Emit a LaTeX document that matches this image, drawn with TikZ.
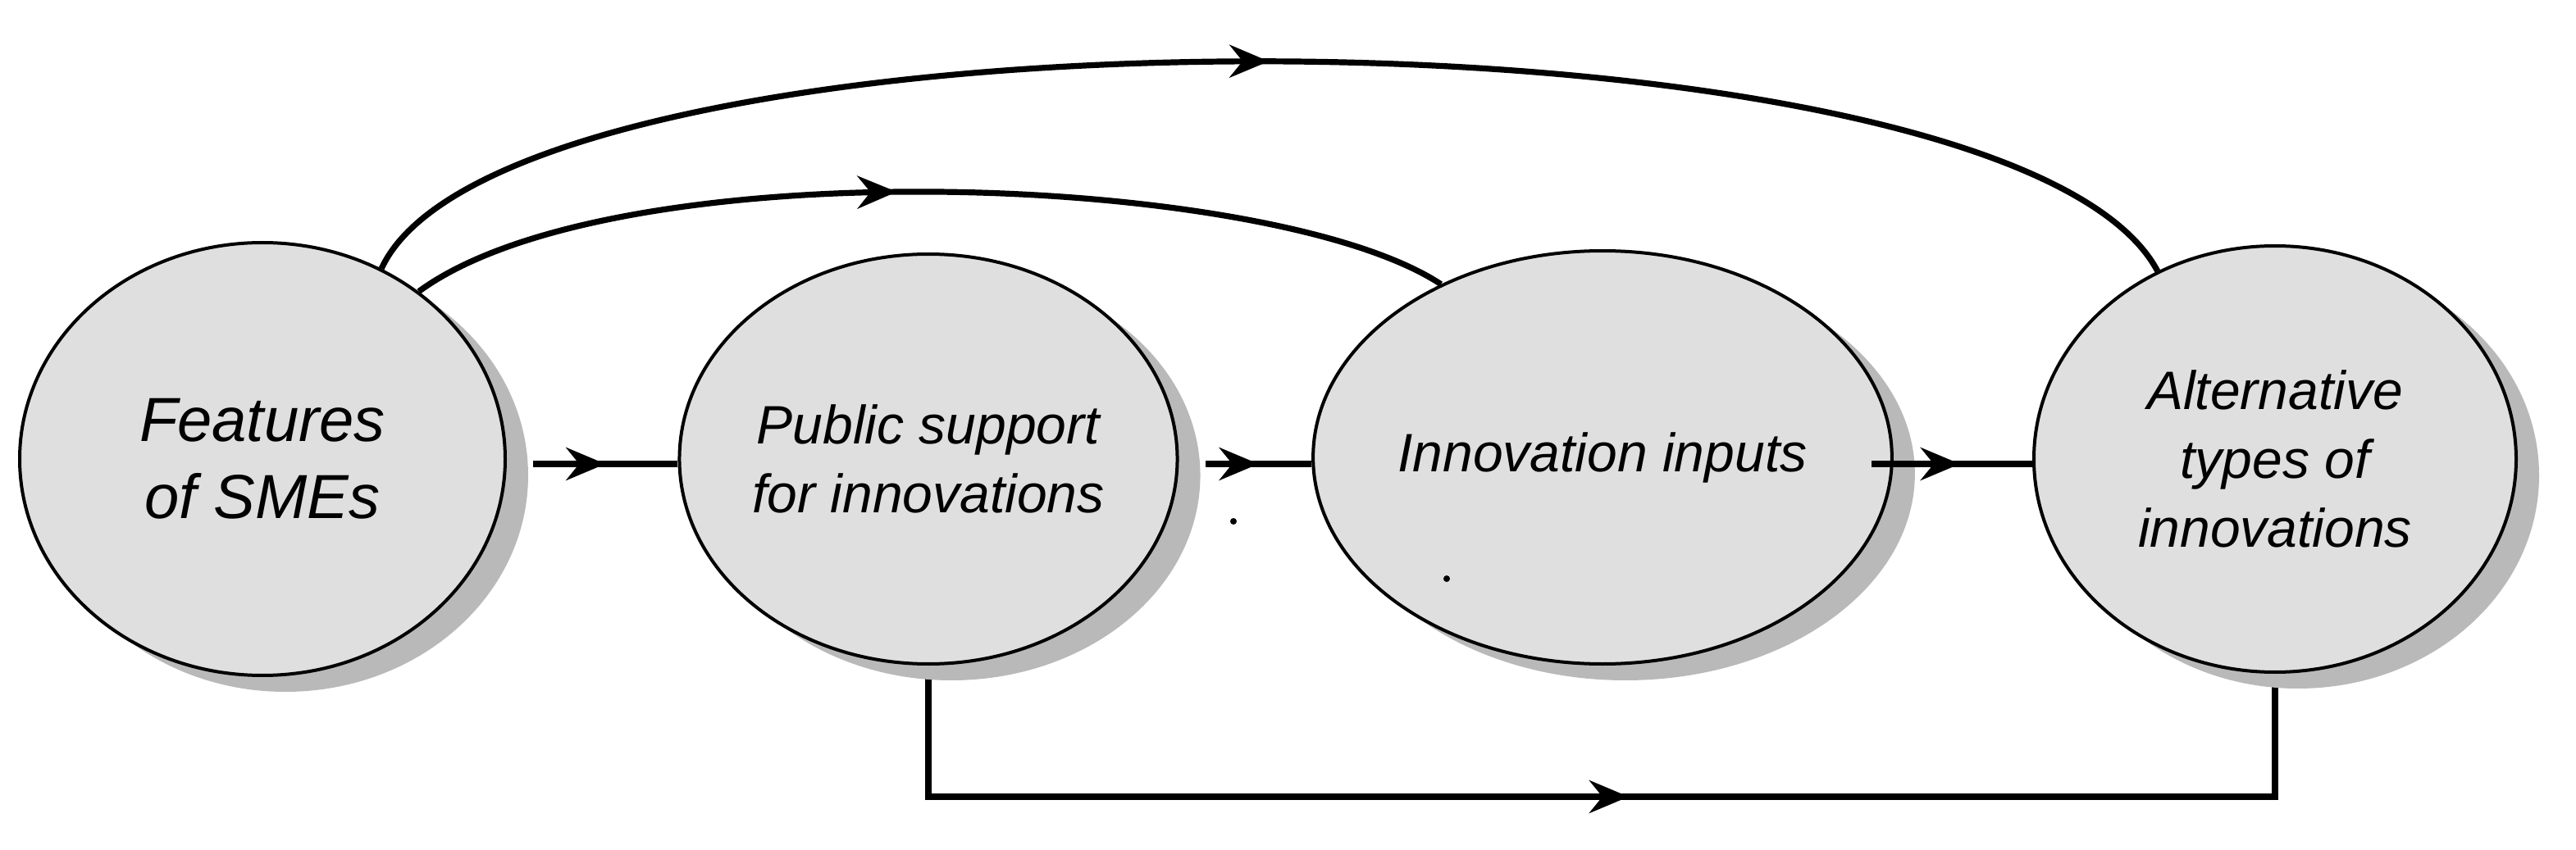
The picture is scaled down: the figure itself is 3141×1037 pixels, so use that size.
\documentclass[tikz,border=0pt]{standalone}
\usepackage{fontspec}
\setmainfont{Liberation Sans}
\usetikzlibrary{shapes.geometric,shadows,decorations.markings,arrows.meta,backgrounds}
\begin{document}
\begin{tikzpicture}[x=0.25pt,y=-0.25pt,
  bub/.style={ellipse,draw=black,line width=1pt,fill=gray!25,inner sep=0pt,
    drop shadow={shadow xshift=7pt,shadow yshift=-5pt,fill=gray!55,opacity=1},
    font=\itshape\fontsize{16.5}{21}\selectfont,align=center},
  conn/.style={line width=1.8pt},
  midarrow/.style={postaction={decorate},decoration={markings,
    mark=at position #1 with {\arrow{Stealth[length=12pt,width=10pt,inset=4pt]}}}}
]
\useasboundingbox (0,0) rectangle (3141,1037);
\node[bub,minimum width=148pt,minimum height=132pt,font=\itshape\fontsize{19}{23.5}\selectfont] (e1) at (320,560) {Features\\of SMEs};
\node[bub,minimum width=146pt,minimum height=125pt] (e2) at (1132,560) {Public support\\for innovations};
\node[bub,minimum width=147pt,minimum height=126pt] (e3) at (1954,558) {Innovation inputs};
\node[bub,minimum width=147pt,minimum height=130pt] (e4) at (2774,560) {Alternative\\types of\\innovations};
\begin{pgfonlayer}{background}
\draw[conn,midarrow=0.5] (e1.58) .. controls (620,-10) and (2450,-10) .. (e4.122);
\draw[conn,midarrow=0.47] (e1.47) .. controls (750,180) and (1550,210) .. (e3.133);
\draw[conn] (e2.south) -- ++(0,160) coordinate (b1) -- (e4.south |- b1) coordinate (b2) -- (e4.south);
\draw[conn,midarrow=0.52,draw=none] (b1) -- (b2);
\end{pgfonlayer}
\coordinate (s1) at (650,566);
\coordinate (s2) at (1470,566);
\coordinate (s3) at (2282,566);
\draw[conn,midarrow=0.5] (s1) -- (e2.west |- s1);
\draw[conn,midarrow=0.5] (s2) -- (e3.west |- s2);
\draw[conn,midarrow=0.55] (s3) -- (e4.west |- s3);
\fill (1504,636) circle (1pt);
\fill (1764,706) circle (1pt);
\end{tikzpicture}
\end{document}
